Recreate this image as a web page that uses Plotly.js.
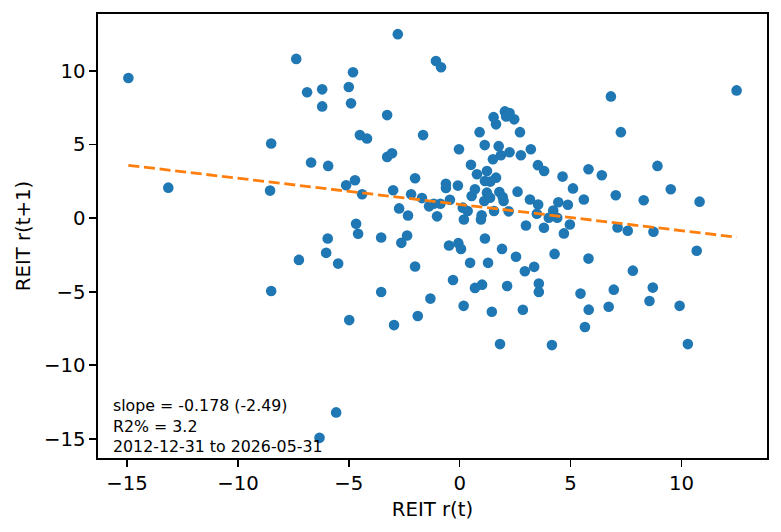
<!DOCTYPE html>
<html>
<head>
<meta charset="utf-8">
<script src="https://cdn.plot.ly/plotly-3.0.1.min.js"></script>
<style>html,body{margin:0;padding:0;background:#fff}</style>
</head>
<body>
<div id="chart" style="width:781px;height:532px"></div>
<script>
// REIT monthly return r(t) against the following month r(t+1)
const reitT = [
    -14.94, -7.37, -6.88, -6.20, -6.20, -8.50, -6.70, -5.93, -2.79, -1.07,
    -0.84, -4.81, -5.00, -4.90, -3.27, -4.50, -4.18, -1.65, -3.27, -3.05,
    -0.03, 0.51, 0.90, 1.13, 1.53, 1.64, 2.04, 2.25, 2.10, 2.46,
    2.72, 1.76, 1.86, 1.50, 2.25, 2.76, 3.21, 3.53, 6.82, 12.49,
    7.27, 8.92, -13.14, -8.55, -5.95, -6.02, -7.25, -8.50, -5.12, -4.72,
    -4.40, -2.01, -3.00, -2.19, -1.70, -1.38, -2.73, -2.33, -1.02, -1.17,
    -0.87, -0.62, -0.62, -0.08, -0.44, 0.14, 0.36, 0.19, 0.99, 0.96,
    0.54, 0.69, 0.78, 1.23, 1.64, 1.14, 1.38, 1.23, 1.37, 1.11,
    1.79, 1.94, 1.98, 1.55, 2.61, 2.21, 3.17, 3.54, 3.48, 4.22,
    4.02, 4.45, 2.99, 3.80, 3.81, -4.67, -4.58, -5.48, -3.54, -2.37,
    -2.63, -2.01, -3.54, -1.32, -1.89, -0.48, -0.06, 0.06, 1.14, 1.91,
    2.54, 4.28, 0.47, 1.28, 2.94, 3.36, -0.30, 0.69, 1.01, 2.14,
    3.57, 3.57, 0.18, 1.45, 2.85, 5.81, 6.41, 4.64, 5.11, 5.60,
    7.04, 8.30, 9.52, 10.82, 4.88, 4.40, 4.97, 4.70, 7.12, 7.58,
    8.74, 10.69, 5.81, 7.81, 5.45, 6.95, 8.71, 8.56, 5.82, 6.72,
    9.92, -6.32, -5.57, -4.98, -2.96, 1.82, 4.16, 5.65, 10.29
];
const reitT1 = [
    9.52, 10.82, 8.55, 8.75, 7.59, 5.07, 3.78, 3.55, 12.50, 10.68,
    10.25, 9.91, 8.91, 7.80, 7.00, 5.64, 5.41, 5.64, 4.16, 4.41,
    4.68, 3.62, 5.84, 4.96, 6.86, 6.37, 7.25, 7.14, 6.91, 6.71,
    5.84, 4.89, 4.27, 4.00, 4.48, 4.27, 4.68, 3.60, 8.27, 8.68,
    5.84, 3.55, 2.07, 1.87, -1.38, -2.36, -2.84, -4.95, 2.23, 2.57,
    1.62, 2.71, 1.89, 1.62, 1.36, 0.80, 0.66, 0.18, 0.12, 0.98,
    0.98, 2.34, 2.05, 2.21, 1.25, 0.71, 0.48, -0.09, 0.20, -0.09,
    1.50, 1.96, 2.98, 3.20, 2.75, 2.52, 2.48, 1.73, 1.39, 1.16,
    1.77, 1.43, 1.16, 0.48, 1.80, 0.46, 1.27, 0.93, 0.30, 0.52,
    0.03, 1.08, -0.50, -0.65, 3.20, -0.38, -1.06, -3.09, -1.32, -1.18,
    -1.68, -3.29, -5.02, -5.47, -6.65, -1.86, -1.70, -2.09, -1.38, -2.09,
    -2.63, -2.43, -3.04, -3.04, -3.61, -3.31, -4.20, -4.74, -4.52, -4.61,
    -4.45, -5.02, -5.96, -6.36, -6.23, 3.32, 2.91, 2.82, 2.02, 1.27,
    1.55, 1.21, 1.96, 1.12, 0.91, 0.03, -0.43, -1.04, -0.63, -0.86,
    -0.93, -2.22, -2.75, -3.57, -5.13, -4.86, -4.72, -5.63, -6.22, -6.02,
    -5.96, -14.93, -13.20, -6.93, -7.27, -8.56, -8.63, -7.40, -8.56
];

// Ajuste linear
const slope = -0.178;
const intercept = 0.93;
const fitNote = ["slope = -0.178 (-2.49)", "R2% = 3.2", "2012-12-31 to 2026-05-31"];

const xMin = Math.min(...reitT);
const xMax = Math.max(...reitT);

var pontos = {
    x: reitT,
    y: reitT1,
    mode: 'markers',
    type: 'scatter',
    marker: {color: '#1f77b4', size: 10.6, line: {width: 0}},
    hoverinfo: 'x+y'
};

var ajuste = {
    x: [xMin, xMax],
    y: [intercept + slope * xMin, intercept + slope * xMax],
    mode: 'lines',
    type: 'scatter',
    line: {color: '#ff7f0e', width: 2.8, dash: '11px,4.7px'}
};

var fonte = {family: 'DejaVu Sans', size: 19.7, color: '#000'};

var eixo = {
    showgrid: false,
    zeroline: false,
    showline: true,
    mirror: true,
    linecolor: '#000',
    linewidth: 1.6,
    ticks: 'outside',
    ticklen: 7,
    tickwidth: 1.6,
    tickcolor: '#000',
    tickfont: fonte,
    automargin: false
};

var layout = {
    width: 781,
    height: 532,
    margin: {l: 98, r: 14, t: 14, b: 74},
    paper_bgcolor: '#fff',
    plot_bgcolor: '#fff',
    showlegend: false,
    font: fonte,
    xaxis: Object.assign({}, eixo, {
        range: [-16.31, 13.86],
        tickvals: [-15, -10, -5, 0, 5, 10],
        title: {text: 'REIT r(t)', font: fonte, standoff: 8}
    }),
    yaxis: Object.assign({}, eixo, {
        range: [-16.30, 13.87],
        tickvals: [-15, -10, -5, 0, 5, 10],
        title: {text: 'REIT r(t+1)', font: fonte, standoff: 8}
    }),
    annotations: [{
        text: fitNote.join('<br>'),
        xref: 'x domain',
        yref: 'y domain',
        x: 0.02,
        y: 0.02,
        yshift: -9,
        xanchor: 'left',
        yanchor: 'bottom',
        align: 'left',
        showarrow: false,
        font: {family: 'DejaVu Sans', size: 15.8, color: '#000'}
    }]
};

Plotly.newPlot('chart', [pontos, ajuste], layout, {displayModeBar: false, staticPlot: true});
</script>
</body>
</html>
